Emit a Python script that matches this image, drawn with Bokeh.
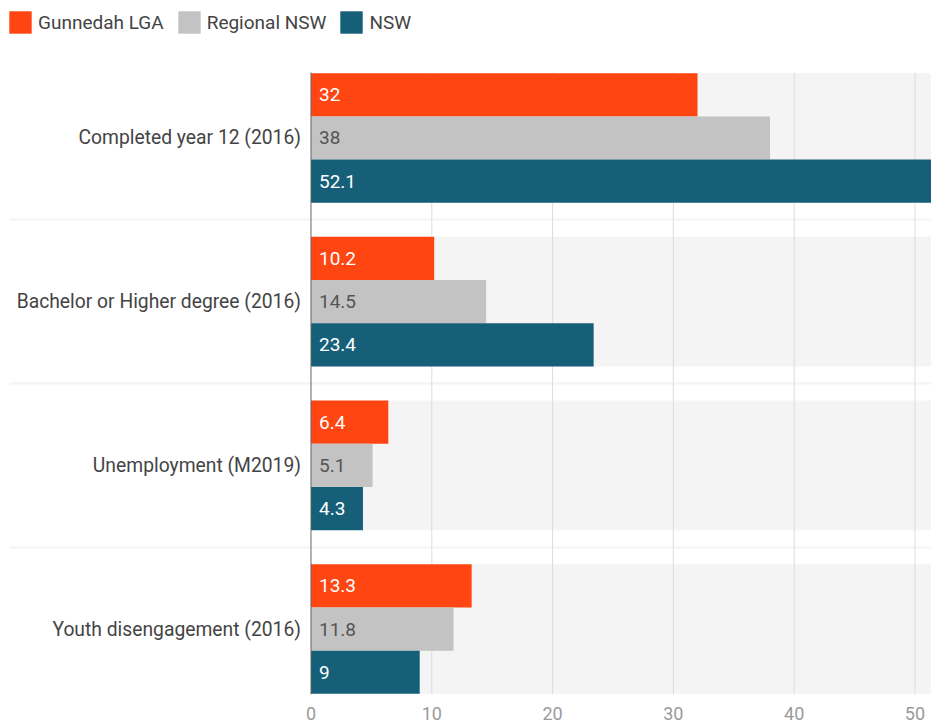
from bokeh.plotting import figure
from bokeh.models import Range1d, FixedTicker, Legend, LegendItem
from bokeh.embed import file_html
from bokeh.resources import INLINE
from bokeh.core.properties import value

categories = [
    "Completed year 12 (2016)",
    "Bachelor or Higher degree (2016)",
    "Unemployment (M2019)",
    "Youth disengagement (2016)",
]
series_names = ["Gunnedah LGA", "Regional NSW", "NSW"]
gunnedah = [32, 10.2, 6.4, 13.3]
regional = [38, 14.5, 5.1, 11.8]
nsw = [52.1, 23.4, 4.3, 9]
x_ticks = [0, 10, 20, 30, 40, 50]

series = [gunnedah, regional, nsw]
colors = ["#fe4512", "#c3c3c3", "#165f79"]
label_colors = ["#ffffff", "#555555", "#ffffff"]

BAR_H = 0.264
offsets = [-BAR_H, 0.0, BAR_H]
ys = list(range(len(categories)))

X_START = -24.96
X_END = 51.37
Y_TOP = -0.4      # top of plotting area (bars region)
Y_BOTTOM = 3.4    # bottom of plotting area
Y_VIEW_TOP = -0.84  # includes legend strip

p = figure(width=931, height=722, output_backend="svg", toolbar_location=None,
           x_range=Range1d(X_START, X_END), y_range=Range1d(Y_BOTTOM, Y_VIEW_TOP),
           min_border_left=9, min_border_right=0, min_border_top=0,
           min_border_bottom=27)
p.background_fill_color = "#ffffff"
p.border_fill_color = "#ffffff"
p.outline_line_color = None

# light background band behind each group
p.hbar(y=ys, left=0, right=X_END * 2, height=3 * BAR_H, fill_color="#f4f4f4",
       line_color=None, level="image")

# vertical gridlines limited to the bar region
p.segment(x0=x_ticks[1:], x1=x_ticks[1:], y0=Y_TOP, y1=Y_BOTTOM,
          line_color="#dcdcdc", line_width=1, level="underlay")

renderers = []
for vals, off, col, lcol in zip(series, offsets, colors, label_colors):
    yy = [y + off for y in ys]
    r = p.hbar(y=yy, left=0, right=vals, height=BAR_H, fill_color=col, line_color=None)
    renderers.append(r)
    p.text(x=[0] * len(vals), y=yy, text=[f"{v:g}" for v in vals], x_offset=8,
           text_baseline="middle", text_align="left", text_font=value("Roboto"),
           text_font_size="19px", text_color=lcol)

# category labels
p.text(x=[0] * len(categories), y=ys, text=categories, x_offset=-10,
       text_baseline="middle", text_align="right", text_font=value("Roboto"),
       text_font_size="19.3px", text_color="#444444")

# value axis line at 0
p.segment(x0=[0], x1=[0], y0=Y_TOP, y1=Y_BOTTOM, line_color="#666666", line_width=1)

legend = Legend(items=[LegendItem(label=n, renderers=[r]) for n, r in zip(series_names, renderers)],
                location=(-3, 658), orientation="horizontal", glyph_width=28, glyph_height=28,
                label_standoff=4, spacing=11, padding=0, margin=0,
                border_line_color=None, background_fill_alpha=0,
                label_text_font="Roboto", label_text_font_size="19px",
                label_text_color="#444444")
p.add_layout(legend)

p.yaxis.visible = False

# x axis
xax = p.xaxis[0]
xax.ticker = FixedTicker(ticks=x_ticks)
xax.axis_line_color = None
xax.major_tick_line_color = None
xax.minor_tick_line_color = None
xax.major_label_standoff = 6
xax.major_label_text_font = "Roboto"
xax.major_label_text_font_size = "18px"
xax.major_label_text_color = "#9a9a9a"

p.xgrid.visible = False
p.ygrid.ticker = FixedTicker(ticks=[y + 0.5 for y in ys[:-1]])
p.ygrid.grid_line_color = "#e6e6e6"
p.ygrid.grid_line_dash = "1 1"
p.ygrid.grid_line_width = 2

open("out.html", "w").write(file_html(p, INLINE))
